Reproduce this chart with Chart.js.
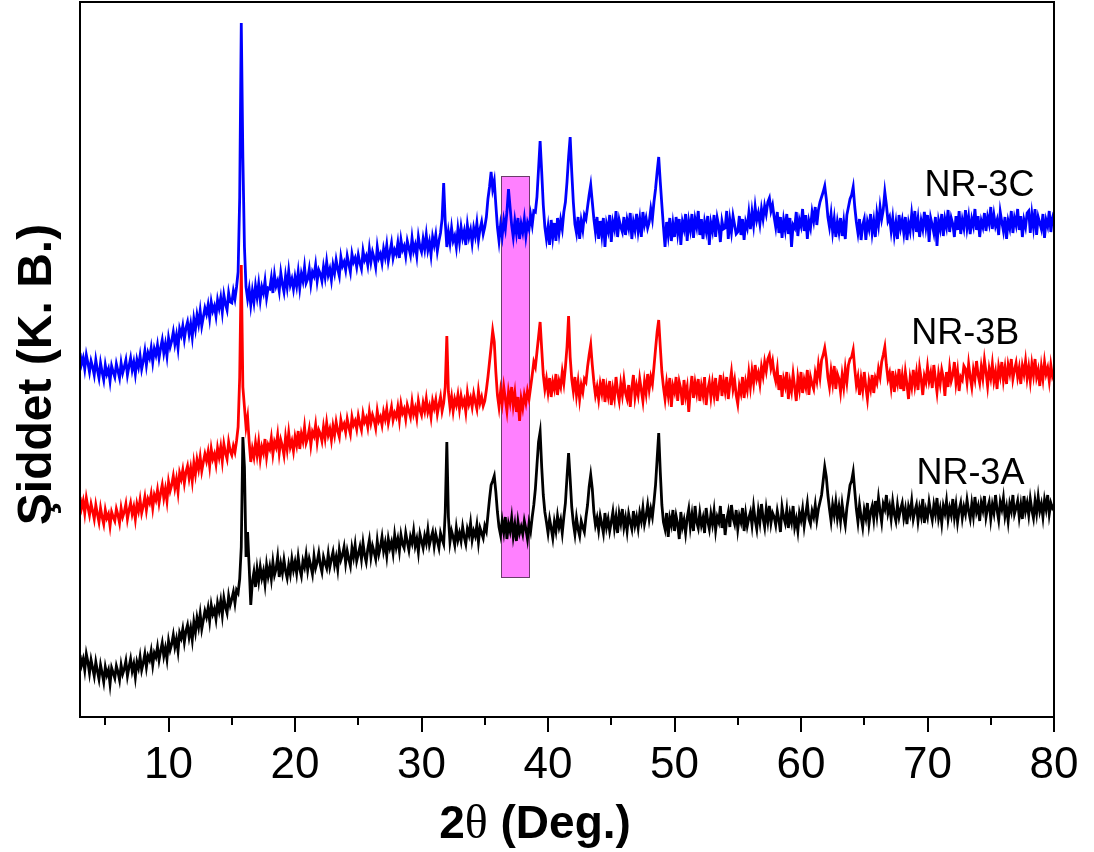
<!DOCTYPE html>
<html>
<head>
<meta charset="utf-8">
<title>XRD NR-3</title>
<script src="https://cdn.jsdelivr.net/npm/chart.js@4.4.0/dist/chart.umd.min.js"></script>
<style>
    html, body { margin: 0; padding: 0; background: #ffffff; }
    #wrap { position: relative; width: 1094px; height: 852px; }
</style>
</head>
<body>
<div id="wrap"><canvas id="xrd"></canvas></div>
<script>
// 2θ grid: each row below covers one degree (3°, 4°, ... 80°), one reading every 0.125°
const thetaStart = 3;
const thetaStep = 0.125;
const thetaMin = 3;
const thetaMax = 80;

const seriesNames = ['NR-3A', 'NR-3B', 'NR-3C'];

// intensities (a.u.)
const nr3A = [
    [62,52,58,47,63,55,44,57], [49,41,55,46,38,52,44,35], [50,42,47,33,49,44,39,51],
    [45,37,52,43,48,56,41,50], [58,46,53,40,55,49,60,47], [54,63,50,61,57,66,52,64],
    [60,70,57,66,74,61,69,58], [76,67,73,82,70,78,66,84], [79,88,75,86,92,80,89,77],
    [95,85,99,90,103,88,97,106], [100,109,96,112,103,108,98,114], [106,116,102,119,110,104,121,112],
    [118,125,114,127,124,138,170,280], [250,160,185,150,112,135,145,130], [148,136,150,139,146,133,152,141],
    [150,138,155,142,148,160,140,153], [144,157,146,139,152,143,158,147], [155,144,160,148,141,156,150,162],
    [147,158,151,143,161,149,155,164], [152,145,160,154,149,163,150,158], [165,152,160,148,167,157,162,170],
    [154,166,158,151,169,160,172,156], [163,170,158,174,162,155,168,177], [160,171,165,158,176,163,170,180],
    [166,174,161,178,169,175,164,182], [170,178,166,182,173,169,184,175], [167,180,174,186,171,178,165,183],
    [176,169,181,174,187,172,179,185], [171,183,176,169,184,178,173,205], [275,200,175,186,180,172,189,177],
    [184,176,190,180,173,188,182,194], [177,186,181,192,175,189,184,179], [191,186,202,218,232,236,241,225],
    [205,190,182,196,185,200,178,193], [186,199,181,192,176,195,184,190], [183,196,188,178,194,186,200,212],
    [228,252,275,285,250,222,205,195], [184,198,189,179,195,186,201,190], [197,184,200,214,240,264,238,210],
    [194,183,199,188,181,196,190,185], [200,212,230,242,228,205,192,199], [187,201,193,184,204,190,198,186],
    [195,205,189,200,184,203,194,208], [190,199,186,203,195,188,206,192], [200,189,204,196,209,193,201,212],
    [198,208,200,215,232,258,284,245], [212,195,188,204,180,199,192,207], [186,201,193,178,205,190,197,184],
    [199,208,190,202,186,211,195,189], [204,192,199,184,209,196,188,203], [193,206,187,200,195,211,189,203],
    [182,197,205,190,212,199,193,207], [188,201,195,209,186,203,191,199], [205,192,210,197,188,206,195,213],
    [199,190,208,196,211,194,204,200], [192,206,197,185,210,200,194,207], [189,203,195,211,190,198,186,204],
    [197,208,191,203,214,198,193,206], [200,212,197,208,215,222,236,250], [240,222,208,196,212,202,215,199],
    [210,196,213,201,192,209,220,232], [236,245,226,208,195,212,200,190], [207,199,214,193,205,211,198,216],
    [202,219,206,195,213,208,222,204], [211,198,215,203,196,212,200,208], [214,199,208,193,210,203,216,198],
    [206,212,196,209,201,218,194,207], [200,215,205,197,212,203,219,199], [208,194,211,204,216,198,209,202],
    [218,200,212,195,207,214,199,210], [203,217,206,198,213,201,220,205], [211,196,214,207,221,200,209,215],
    [198,212,204,222,207,197,215,208], [219,201,210,196,213,206,222,203], [209,216,200,212,198,221,206,214],
    [202,218,207,199,216,204,220,206], [213,200,217,208,222,203,214,209], [212]
];

const nr3B = [
    [220,209,216,204,219,210,202,213], [206,198,212,203,195,209,200,193], [207,199,203,191,205,200,196,208],
    [202,194,209,200,205,213,198,207], [214,203,210,198,213,206,217,204], [211,220,207,218,214,223,209,222],
    [217,227,214,224,232,219,228,216], [235,226,232,241,229,238,225,244], [238,247,234,245,251,239,249,236],
    [254,243,257,248,260,246,255,263], [256,265,251,268,258,263,253,269], [260,270,256,273,264,258,275,266],
    [262,271,265,276,290,340,452,330], [310,290,300,275,255,268,260,274], [262,275,258,270,264,278,260,272],
    [268,279,263,275,270,282,264,277], [271,262,280,268,284,270,276,266], [280,272,286,268,283,276,290,274],
    [279,288,272,285,281,292,275,287], [283,276,290,279,294,282,288,277], [291,282,295,286,280,297,289,293],
    [285,298,290,283,300,292,296,288], [301,293,287,303,295,299,290,305], [294,302,297,289,306,296,300,292],
    [305,298,308,294,302,310,297,304], [300,310,297,313,304,308,298,312], [306,300,315,303,309,299,316,307],
    [302,314,306,318,305,311,300,316], [309,317,303,312,320,306,314,330], [381,325,310,320,306,318,312,322],
    [308,321,312,317,305,324,313,319], [310,323,315,308,326,314,320,311], [316,327,340,355,370,386,375,345],
    [322,310,326,314,330,318,306,325], [315,330,312,324,305,320,296,318], [309,322,314,326,318,330,342,355],
    [350,365,380,395,368,342,328,338], [325,339,320,335,328,343,322,336], [330,345,334,350,370,401,360,338],
    [326,340,322,335,318,332,325,338], [335,350,362,372,352,335,322,330], [318,333,324,338,315,330,321,336],
    [312,328,319,340,325,316,333,322], [337,324,318,332,310,329,342,320], [331,322,338,327,316,335,324,343],
    [328,340,333,350,368,385,397,370], [345,330,318,334,322,339,310,331], [325,340,316,335,328,312,337,321],
    [330,305,326,341,319,334,324,338], [316,331,322,340,312,327,335,320], [334,322,339,316,329,342,321,336],
    [326,340,318,333,345,328,337,322], [313,331,324,340,319,335,327,344], [330,346,334,352,338,344,333,350],
    [341,355,346,358,362,349,356,343], [336,348,327,342,320,338,331,345], [318,335,326,343,330,316,339,328],
    [345,324,337,330,347,322,340,333], [328,344,336,352,340,357,362,369], [358,340,330,346,334,351,328,343],
    [338,325,342,330,348,335,352,358], [360,367,348,332,340,322,338,327], [345,330,318,336,328,342,324,339],
    [334,348,340,355,362,370,352,338], [344,330,346,325,340,333,348,328], [341,326,345,333,318,339,330,347],
    [332,344,327,349,338,322,341,335], [350,336,344,329,352,338,325,343], [333,347,339,321,345,330,349,336],
    [342,355,334,346,326,340,337,351], [348,335,353,340,330,347,338,356], [342,334,350,339,357,345,331,348],
    [339,353,336,345,328,350,341,355], [337,349,333,352,344,358,338,347], [354,340,349,333,351,343,356,339],
    [350,336,353,342,358,340,347,331], [350,338,355,343,349,336,352,341], [346]
];

const nr3C = [
    [364,353,359,348,362,354,345,356], [350,342,357,347,339,354,345,337], [352,343,348,336,351,345,340,353],
    [346,339,354,344,350,357,342,351], [359,347,355,343,357,350,361,348], [356,366,352,364,359,369,355,368],
    [362,372,359,369,377,364,373,361], [379,370,376,385,373,382,369,388], [382,391,378,389,395,383,393,380],
    [398,388,402,393,406,391,400,409], [403,412,399,415,406,411,401,417], [409,419,405,422,413,407,424,415],
    [414,426,418,430,445,520,694,560], [470,430,418,428,412,426,415,431], [420,433,417,430,424,436,419,429],
    [428,439,424,442,431,436,426,444], [433,425,441,430,446,432,438,428], [440,431,445,429,443,436,450,434],
    [438,448,433,445,441,452,436,447], [443,436,450,440,455,442,448,437], [452,444,457,448,441,460,451,455],
    [447,461,453,445,463,455,459,450], [462,454,448,466,457,461,452,468], [455,465,459,450,470,459,463,454],
    [468,460,472,456,465,474,459,467], [463,474,459,477,467,471,461,476], [469,462,479,466,472,461,480,470],
    [465,478,468,482,467,475,462,480], [472,482,466,476,484,498,534,495], [470,485,474,489,476,481,470,488],
    [475,490,479,486,472,492,480,487], [474,489,481,494,477,488,495,483], [490,500,518,530,545,528,536,512],
    [490,476,492,481,497,488,505,528], [510,492,480,496,484,499,478,493], [485,498,481,494,488,502,492,506],
    [505,520,548,576,545,512,490,478], [490,472,497,480,494,476,499,484], [497,488,505,515,535,560,580,545],
    [515,493,484,500,478,496,487,502], [498,510,522,532,515,498,485,500], [478,496,482,499,470,493,486,502],
    [475,495,488,506,480,497,490,485], [500,482,497,489,504,478,495,487], [503,486,498,480,505,492,499,489],
    [495,508,498,515,528,545,560,535], [512,490,470,495,482,499,476,493], [480,500,484,498,472,495,488,503],
    [476,496,487,503,479,498,490,506], [482,498,478,495,486,501,472,494], [486,502,480,499,491,475,496,488],
    [489,506,478,497,485,501,492,483], [485,501,482,498,477,495,489,504], [488,505,492,510,497,504,493,508],
    [498,511,503,515,519,506,512,500], [490,505,484,500,479,497,487,503], [483,499,470,492,489,505,481,497],
    [491,508,486,502,478,496,489,505], [496,510,492,507,515,520,525,531], [518,500,490,503,485,498,480,495],
    [485,499,481,495,478,502,510,518], [522,530,510,495,484,498,477,492], [498,477,495,488,503,484,496,480],
    [503,492,510,498,507,525,512,496], [500,486,499,482,494,478,502,489], [497,484,500,477,494,486,503,489],
    [506,485,498,480,496,488,505,490], [502,475,499,492,484,500,471,496], [488,503,481,498,490,507,485,499],
    [493,480,501,487,506,483,497,489], [507,489,500,483,498,491,508,487], [501,480,496,490,504,486,500,493],
    [510,488,502,491,497,482,505,495], [486,500,478,496,489,506,484,499], [492,508,487,501,480,497,490,504],
    [506,484,503,490,508,482,500,494], [488,503,479,497,491,506,485,499], [505]
];

// highlighted 2θ window and its intensity extent
const highlightTheta = [36.3, 38.5];
const highlightLevel = [140, 541];

const FONT = "'Liberation Sans', Arial, sans-serif";

function toPoints(rows) {
    return rows.flatMap((row, r) => row.map((v, j) => ({ x: thetaStart + r + j * thetaStep, y: v })));
}

const decor = {
    id: 'xrdDecor',
    beforeDatasetsDraw(chart) {
        const { ctx, scales: { x, y } } = chart;
        const x0 = x.getPixelForValue(highlightTheta[0]);
        const x1 = x.getPixelForValue(highlightTheta[1]);
        const y0 = y.getPixelForValue(highlightLevel[1]);
        const y1 = y.getPixelForValue(highlightLevel[0]);
        ctx.save();
        ctx.fillStyle = '#ff80ff';
        ctx.fillRect(x0, y0, x1 - x0, y1 - y0);
        ctx.strokeStyle = '#6a3c6a';
        ctx.lineWidth = 1;
        ctx.strokeRect(Math.round(x0) + 0.5, Math.round(y0) + 0.5, Math.round(x1 - x0), Math.round(y1 - y0));
        ctx.restore();
    },
    afterDatasetsDraw(chart, args, opts) {
        const { ctx, scales: { x, y } } = chart;
        ctx.save();
        ctx.fillStyle = '#000';
        ctx.font = '36px ' + FONT;
        ctx.textAlign = 'right';
        ctx.textBaseline = 'middle';
        opts.labels.forEach((lab, i) => {
            ctx.fillText(seriesNames[i], x.getPixelForValue(lab[0]), y.getPixelForValue(lab[1]));
        });
        ctx.restore();
    },
    afterDraw(chart) {
        const { ctx, chartArea: a, scales: { x } } = chart;
        ctx.save();
        // frame
        ctx.strokeStyle = '#000';
        ctx.lineWidth = 2;
        ctx.strokeRect(a.left, a.top, a.right - a.left, a.bottom - a.top);
        // outward ticks, long on every 10°, short on the 5° between
        x.ticks.forEach(t => {
            const px = Math.round(x.getPixelForValue(t.value));
            const len = t.value % 10 === 0 ? 15 : 8;
            ctx.beginPath();
            ctx.moveTo(px, a.bottom);
            ctx.lineTo(px, a.bottom + len);
            ctx.stroke();
        });
        // x title: 2θ (Deg.)
        ctx.fillStyle = '#000';
        ctx.textBaseline = 'alphabetic';
        ctx.textAlign = 'left';
        const parts = [
            ['2', 'bold 46px ' + FONT],
            ['θ', "48px 'Liberation Serif', 'Times New Roman', serif"],
            [' (Deg.)', 'bold 46px ' + FONT]
        ];
        let total = 0;
        parts.forEach(p => { ctx.font = p[1]; total += ctx.measureText(p[0]).width; });
        let cx = (a.left + a.right) / 2 - 32 - total / 2;
        parts.forEach(p => {
            ctx.font = p[1];
            ctx.fillText(p[0], cx, 838);
            cx += ctx.measureText(p[0]).width;
        });
        // y title
        ctx.translate(51, (a.top + a.bottom) / 2 + 15);
        ctx.rotate(-Math.PI / 2);
        ctx.textAlign = 'center';
        ctx.font = 'bold 48px ' + FONT;
        ctx.fillText('Şiddet (K. B.)', 0, 0);
        ctx.restore();
    }
};

const colors = ['#000000', '#ff0000', '#0000ff'];

new Chart(document.getElementById('xrd'), {
    type: 'line',
    data: {
        datasets: [nr3A, nr3B, nr3C].map((rows, i) => ({
            label: seriesNames[i],
            data: toPoints(rows),
            borderColor: colors[i],
            borderWidth: 2.8,
            pointRadius: 0,
            tension: 0,
            fill: false
        }))
    },
    options: {
        responsive: true,
        maintainAspectRatio: false,
        animation: false,
        events: [],
        layout: { padding: { top: 2, right: 40, left: 0, bottom: 0 } },
        plugins: {
            legend: { display: false },
            tooltip: { enabled: false },
            xrdDecor: {
                // [right edge 2θ, intensity level] for NR-3A, NR-3B, NR-3C
                labels: [[77.66, 243], [77.26, 383], [78.45, 531]]
            }
        },
        scales: {
            x: {
                type: 'linear',
                min: thetaMin,
                max: thetaMax,
                grid: { display: false, drawTicks: false },
                border: { display: false },
                ticks: {
                    stepSize: 5,
                    includeBounds: false,
                    autoSkip: false,
                    maxRotation: 0,
                    padding: 22,
                    color: '#000',
                    font: { family: FONT, size: 44 },
                    callback: v => (v % 10 === 0 ? String(v) : '')
                },
                afterFit: s => {
                    s.height = 135;
                    s.paddingLeft = 0;
                    s.paddingRight = 0;
                }
            },
            y: {
                min: 0,
                max: 715,
                grid: { display: false, drawTicks: false },
                border: { display: false },
                ticks: { display: false },
                afterFit: s => { s.width = 80; }
            }
        }
    },
    plugins: [decor]
});
</script>
</body>
</html>
